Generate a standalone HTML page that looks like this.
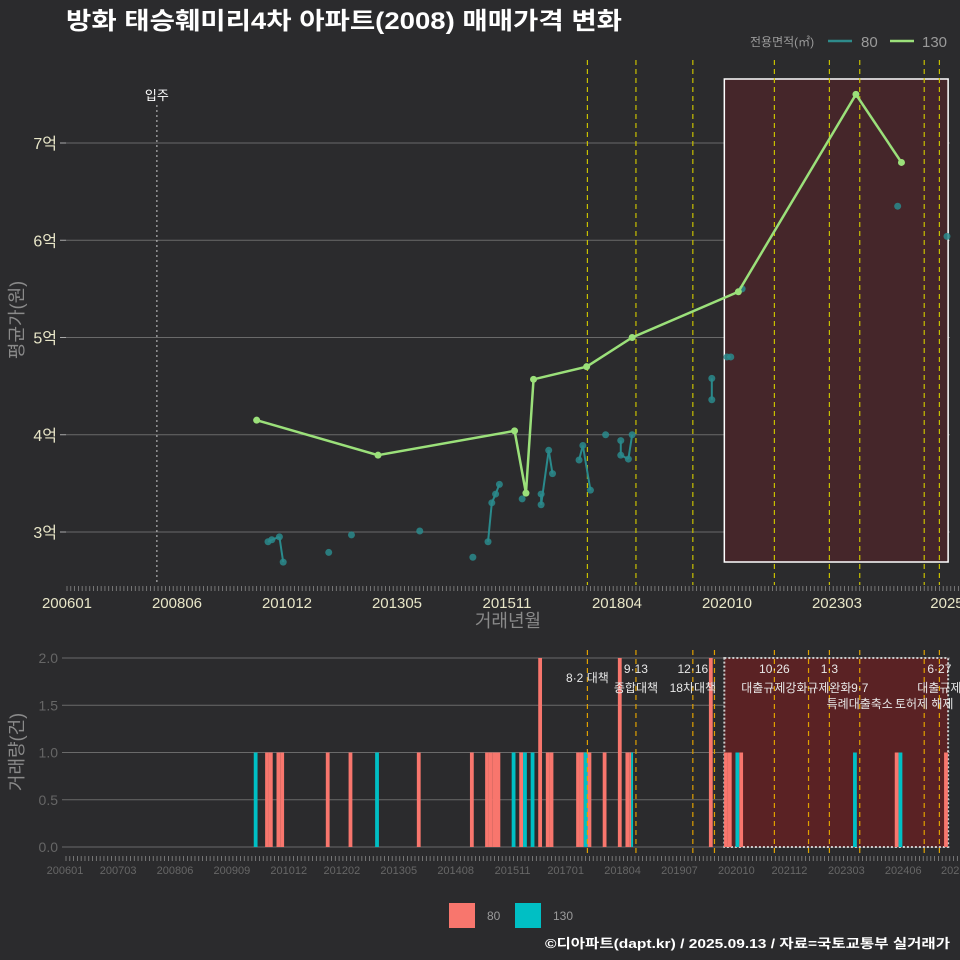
<!DOCTYPE html>
<html><head><meta charset="utf-8">
<style>
html,body{margin:0;padding:0;background:#2b2b2d;}
body{width:960px;height:960px;overflow:hidden;font-family:"Liberation Sans","Noto Sans CJK KR",sans-serif;}
svg text{font-family:"Liberation Sans","Noto Sans CJK KR",sans-serif;}
</style></head>
<body>
<svg id="chart" width="960" height="960" viewBox="0 0 960 960" xmlns="http://www.w3.org/2000/svg" style="display:block">
<rect x="0" y="0" width="960" height="960" fill="#2b2b2d"/>
<text x="66" y="29" fill="#ffffff" font-size="24" font-weight="bold" textLength="556" lengthAdjust="spacingAndGlyphs">방화 태승훼미리4차 아파트(2008) 매매가격 변화</text>
<g>
<text x="750" y="46" fill="#9a9a9a" font-size="12">전용면적(㎡)</text>
<line x1="828" y1="41" x2="852" y2="41" stroke="#2e8b8b" stroke-width="2.5"/>
<text x="861" y="47" fill="#9a9a9a" font-size="15">80</text>
<line x1="890" y1="41" x2="914" y2="41" stroke="#9be07a" stroke-width="2.5"/>
<text x="922" y="47" fill="#9a9a9a" font-size="15">130</text>
</g>
<g id="topPanel"></g>
<g id="botPanel"></g>
<g>
<rect x="449" y="903" width="26" height="25" fill="#f8766d"/>
<text x="487" y="920" fill="#9a9a9a" font-size="12">80</text>
<rect x="515" y="903" width="26" height="25" fill="#00bfc4"/>
<text x="553" y="920" fill="#9a9a9a" font-size="12">130</text>
</g>
<text x="950" y="948" text-anchor="end" fill="#ffffff" font-size="13" font-weight="bold" textLength="405" lengthAdjust="spacingAndGlyphs">©디아파트(dapt.kr) / 2025.09.13 / 자료=국토교통부 실거래가</text>
</svg>
<script>
// months counted from 2006-01 (0)
const months130 = [50,82,118,121,123,137,149,177,208,220];
const prices130 = [4.15,3.79,4.04,3.40,4.57,4.70,5.00,5.47,7.50,6.80];
const months80 = [53,54,56,57,69,75,93,107,111,112,113,114,120,125,125,127,128,135,136,138,142,146,146,148,149,170,170,174,175,178,219,232];
const prices80 = [2.90,2.92,2.95,2.69,2.79,2.97,3.01,2.74,2.90,3.30,3.39,3.49,3.34,3.39,3.28,3.84,3.60,3.74,3.89,3.43,4.00,3.94,3.79,3.75,4.00,4.58,4.36,4.80,4.80,5.50,6.35,6.04];
const priceTicks = [3,4,5,6,7];
const priceTickLabels = ["3억","4억","5억","6억","7억"];
const topXLabels = ["200601","200806","201012","201305","201511","201804","202010","202303","2025"];
const topXMonths = [0,29,58,87,116,145,174,203,232];
const botXLabels = ["200601","200703","200806","200909","201012","201202","201305","201408","201511","201701","201804","201907","202010","202112","202303","202406","20250"];
const botXMonths = [0,14,29,44,59,73,88,103,118,132,147,162,177,191,206,221,235];
const volTicks = [0,0.5,1,1.5,2];
const volTickLabels = ["0.0","0.5","1.0","1.5","2.0"];
const policyMonths = [137.2,150,165,186.5,201,209,226,230];
const policyMonthsBot = [137.2,150,165,170.7,186.5,195.5,201,209,226,230];
const policyTop = ["8·2 대책","9·13","12·16","10·26","1·3","","","6·27"];
const policyMid = ["","종합대책","18차대책","대출규제강화","규제완화","9·7","","대출규제"];
const policyLow = ["","","","","","특례대출축소","토허제 해제",""];
const moveInMonth = 23.7;
const shadeStart = 173.3, shadeEnd = 232.3;

const NS="http://www.w3.org/2000/svg";
function mk(parent,tag,attrs){const e=document.createElementNS(NS,tag);for(const k in attrs)e.setAttribute(k,attrs[k]);parent.appendChild(e);return e;}
const xS = m => 67 + m*3.793;
const yP = v => 532 - (v-3)*97.25;
const yV = v => 847 - v*94.5;
const topG=document.getElementById('topPanel'), botG=document.getElementById('botPanel');

priceTicks.forEach((t,i)=>{
  let l=mk(topG,'line',{x1:66,x2:950,y1:yP(t),y2:yP(t),stroke:'#6a6a6a','stroke-width':1});
  
  
  let tk=mk(topG,'line',{x1:60,x2:66,y1:yP(t),y2:yP(t),stroke:'#aaa'});
  
  
  let tx=mk(topG,'text',{x:57,y:yP(t)+6,'text-anchor':'end',fill:'#e8e6c8','font-size':16});
  tx.textContent=priceTickLabels[i];
  
  
});
let sh=mk(topG,'rect',{x:xS(shadeStart),y:79,width:xS(shadeEnd)-xS(shadeStart),height:483,fill:'#45262a',stroke:'#ffffff','stroke-width':1.5});


let mi=mk(topG,'line',{x1:xS(moveInMonth),x2:xS(moveInMonth),y1:105,y2:585,stroke:'#cccccc','stroke-dasharray':'2,3'});


let mt=mk(topG,'text',{x:xS(moveInMonth),y:100,'text-anchor':'middle',fill:'#ffffff','font-size':13});
mt.textContent='입주';


policyMonths.forEach(m=>{
  let l=mk(topG,'line',{x1:xS(m),x2:xS(m),y1:60,y2:585,stroke:'#c8c000','stroke-dasharray':'5,4','stroke-width':1.2});
  
  
});
for(let m=0;m<=235;m++){
  let t=mk(topG,'line',{x1:xS(m),x2:xS(m),y1:586,y2:591,stroke:'#888','stroke-width':0.8});
  
  
  let t2=mk(botG,'line',{x1:xS(m)-1,x2:xS(m)-1,y1:856,y2:861,stroke:'#888','stroke-width':0.8});
  
  
}
topXLabels.forEach((s,i)=>{
  let tx=mk(topG,'text',{x:xS(topXMonths[i]),y:608,'text-anchor':'middle',fill:'#e8e6c8','font-size':15});
  tx.textContent=s;
  
  
});
let xt=mk(topG,'text',{x:508,y:627,'text-anchor':'middle',fill:'#8a8a8a','font-size':18});
xt.textContent='거래년월';


let yt=mk(topG,'text',{x:0,y:0,'text-anchor':'middle',fill:'#8a8a8a','font-size':18,transform:'translate(23,320) rotate(-90)'});
yt.textContent='평균가(원)';



for(let i=1;i<months80.length;i++){
  if(months80[i]-months80[i-1]<=2){
    let l=mk(topG,'line',{x1:xS(months80[i-1]),y1:yP(prices80[i-1]),x2:xS(months80[i]),y2:yP(prices80[i]),stroke:'#2a8a8c','stroke-width':2});
    
    
  }
}
months80.forEach((m,i)=>{
  let c=mk(topG,'circle',{cx:xS(m),cy:yP(prices80[i]),r:3.5,fill:'#2a8a8c','fill-opacity':0.85});
  
  
});
let pts=months130.map((m,i)=>xS(m)+','+yP(prices130[i])).join(' ');
let pl=mk(topG,'polyline',{points:pts,fill:'none',stroke:'#9be07a','stroke-width':2.5});


months130.forEach((m,i)=>{
  let c=mk(topG,'circle',{cx:xS(m),cy:yP(prices130[i]),r:3.5,fill:'#9be07a'});
  
  
});

volTicks.forEach((t,i)=>{
  let l=mk(botG,'line',{x1:62,x2:950,y1:yV(t),y2:yV(t),stroke:'#6a6a6a','stroke-width':1});
  
  
  let tx=mk(botG,'text',{x:58,y:yV(t)+5,'text-anchor':'end',fill:'#666','font-size':14});
  tx.textContent=volTickLabels[i];
  
  
});
let bsh=mk(botG,'rect',{x:xS(shadeStart),y:658,width:xS(shadeEnd)-xS(shadeStart),height:189,fill:'#5a2224',stroke:'#cccccc','stroke-width':2,'stroke-dasharray':'2,2'});


const cnt80={},cnt130={};
months80.forEach(m=>cnt80[m]=(cnt80[m]||0)+1);
months130.forEach(m=>cnt130[m]=(cnt130[m]||0)+1);
const bw=3.8;
Object.keys(cnt80).forEach(k=>{
  const m=+k, both=cnt130[m];
  let w=both?bw/2:bw, x=xS(m)-bw/2-1;
  let r=mk(botG,'rect',{x:x,y:yV(cnt80[m]),width:w,height:yV(0)-yV(cnt80[m]),fill:'#f8766d'});
  
  
});
Object.keys(cnt130).forEach(k=>{
  const m=+k, both=cnt80[m];
  let w=both?bw/2:bw, x=both?xS(m)-1:xS(m)-bw/2-1;
  let r=mk(botG,'rect',{x:x,y:yV(cnt130[m]),width:w,height:yV(0)-yV(cnt130[m]),fill:'#00bfc4'});
  
  
});
policyMonthsBot.forEach(m=>{
  let l=mk(botG,'line',{x1:xS(m),x2:xS(m),y1:650,y2:855,stroke:'#e0a000','stroke-dasharray':'5,4','stroke-width':1.2});
  
  
});
policyMonths.forEach((m,i)=>{
  const x=xS(m);
  [[policyTop[i],i===0?682:673],[policyMid[i],692],[policyLow[i],708]].forEach(([s,y])=>{
    if(!s)return;
    let tx=mk(botG,'text',{x:x,y:y,'text-anchor':'middle',fill:'#e8e8e8','font-size':12});
    tx.textContent=s;
    
    
  });
});
botXLabels.forEach((s,i)=>{
  let tx=mk(botG,'text',{x:xS(botXMonths[i])-2,y:874,'text-anchor':'middle',fill:'#666','font-size':11});
  tx.textContent=s;
  
  
});
let vyt=mk(botG,'text',{x:0,y:0,'text-anchor':'middle',fill:'#8a8a8a','font-size':18,transform:'translate(23,752) rotate(-90)'});
vyt.textContent='거래량(건)';


</script>
</body></html>
